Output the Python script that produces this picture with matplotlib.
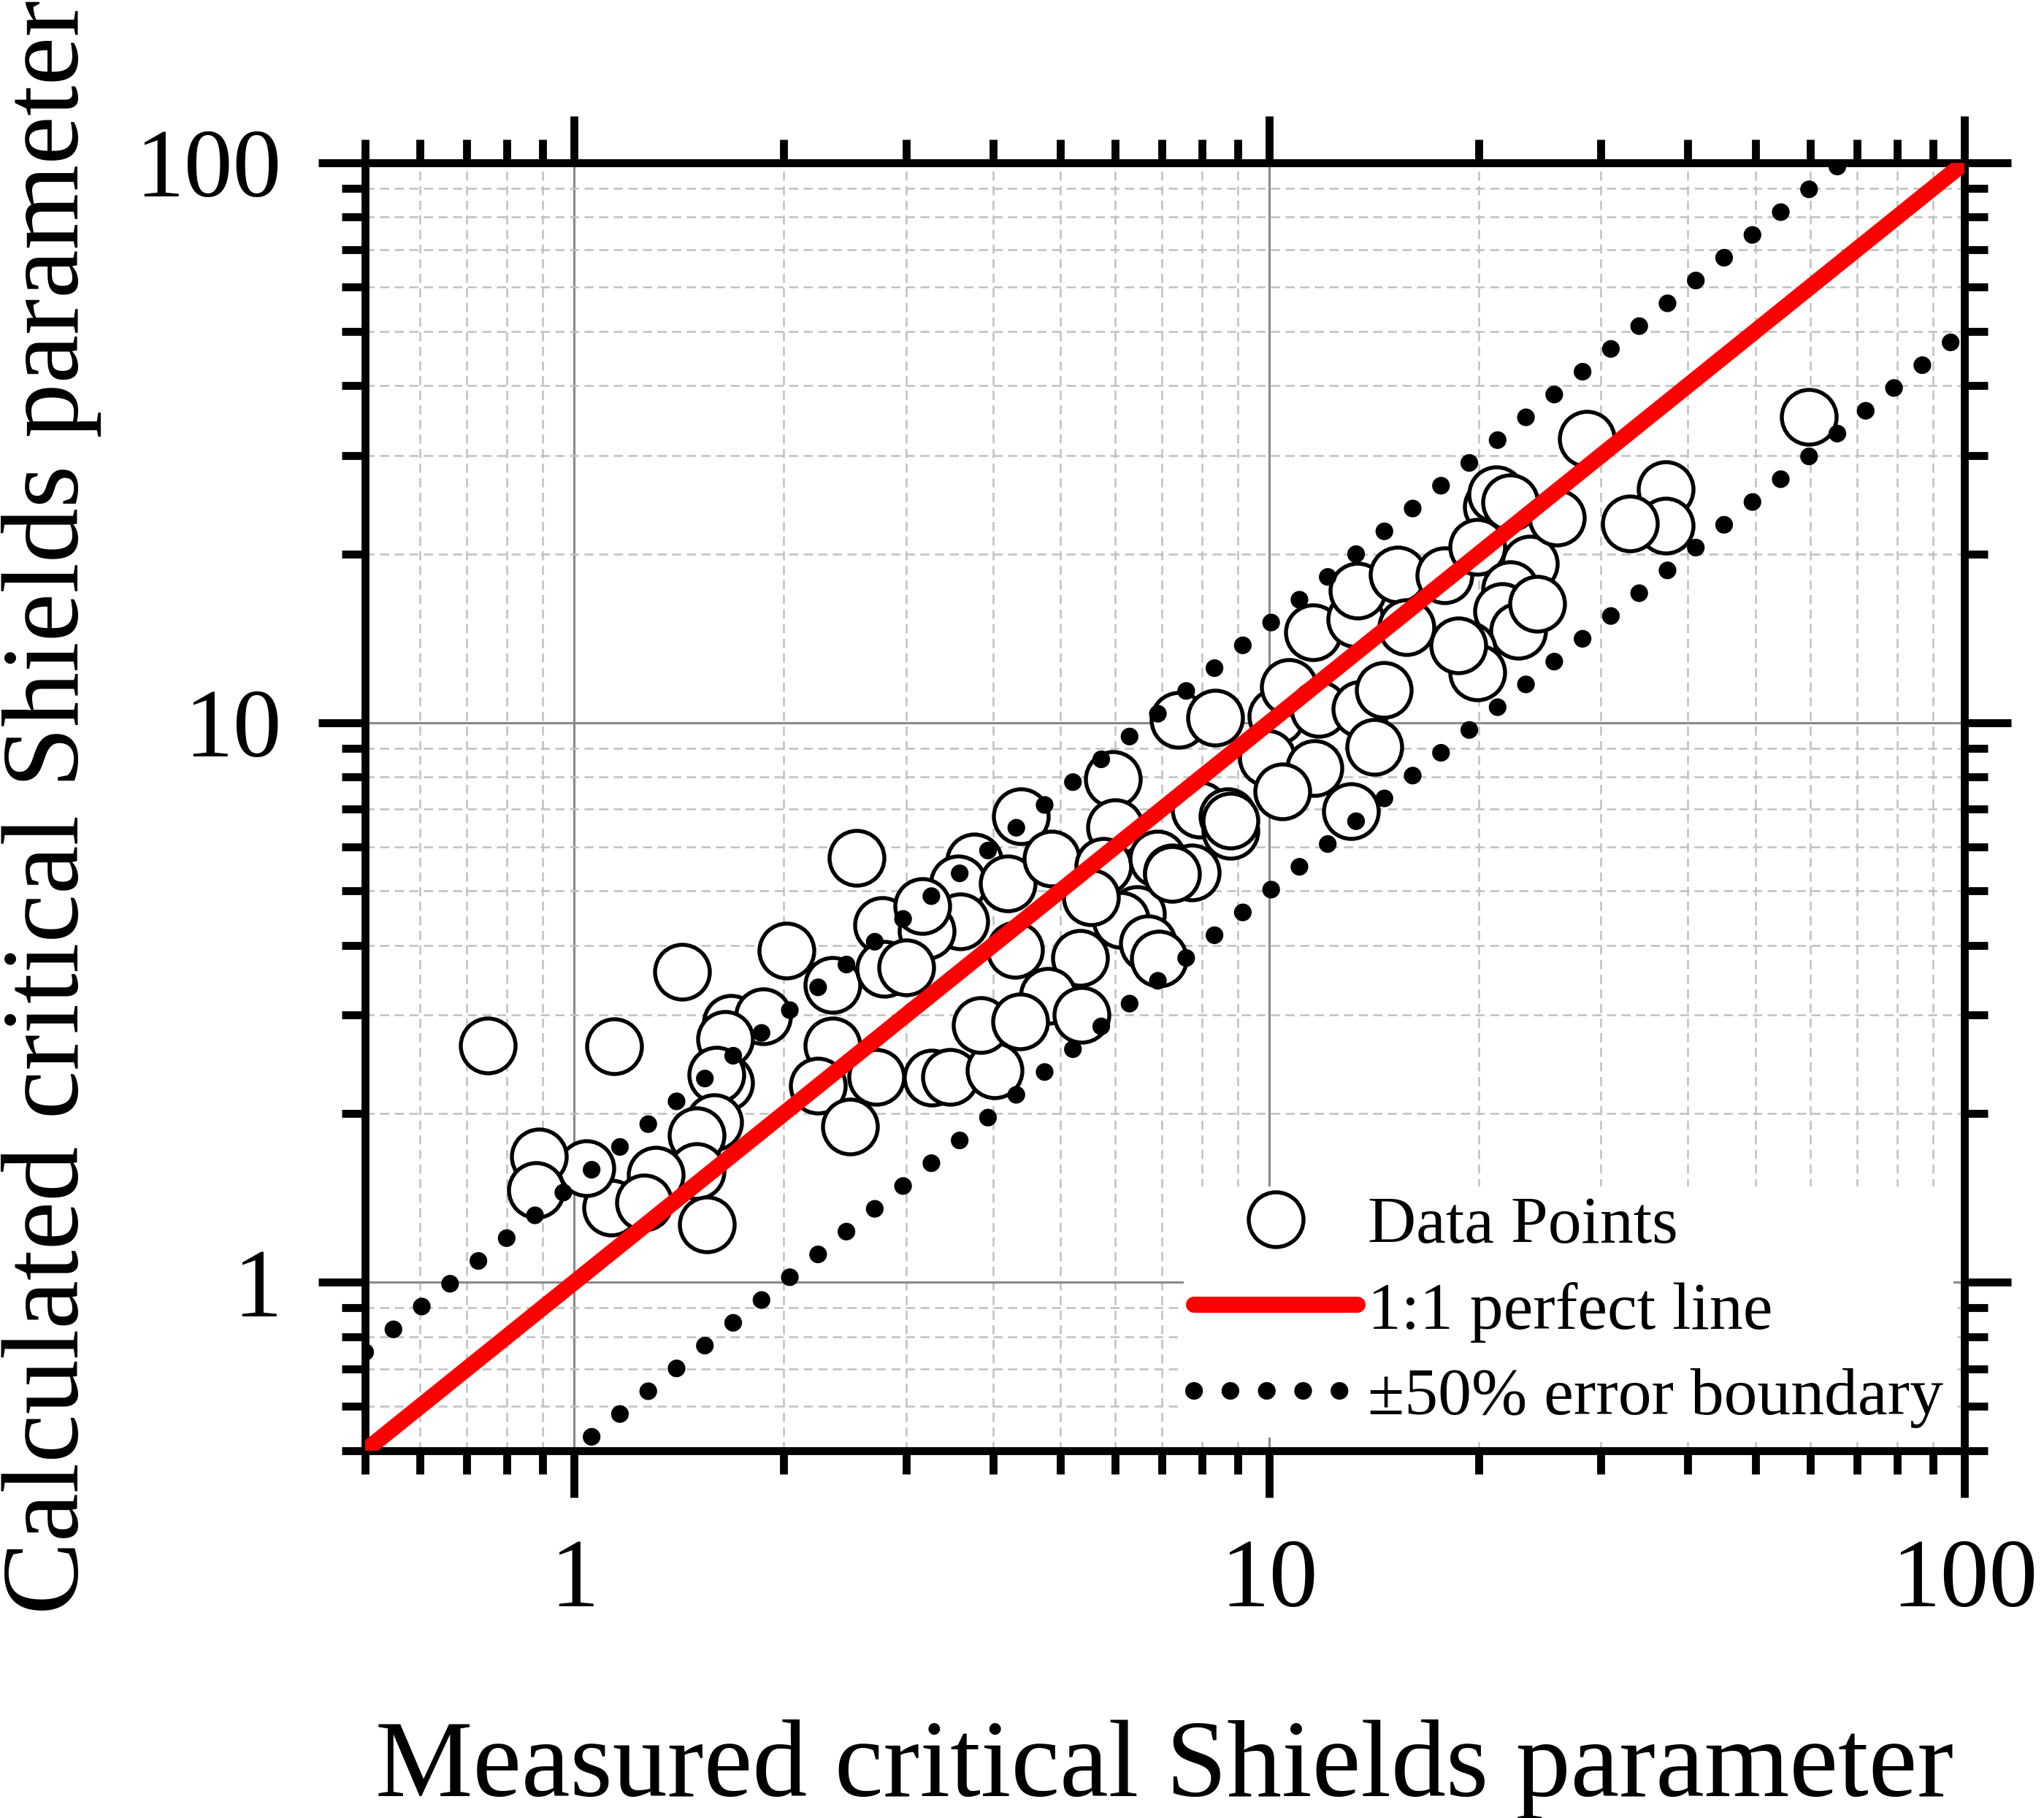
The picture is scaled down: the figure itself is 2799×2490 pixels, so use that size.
import numpy as np
import matplotlib
matplotlib.use("Agg")
import matplotlib.pyplot as plt
from matplotlib.ticker import LogLocator, NullFormatter, FixedFormatter, FixedLocator

plt.rcParams['font.family'] = ['Liberation Serif', 'DejaVu Serif']

# measured vs calculated critical Shields parameter
measured = [
    0.75, 1.14, 1.43, 2.02, 2.55, 1.68, 1.87, 1.65, 1.65, 1.60, 1.59, 1.50,
    1.50, 1.31, 1.55, 1.13, 1.26, 1.04, 0.89, 0.88, 2.35, 2.24, 2.49, 2.35,
    4.39, 5.96, 6.00, 7.41, 8.36, 7.94, 8.71, 8.80, 3.76, 3.57, 4.20, 4.86,
    5.77, 6.91, 7.24, 7.73, 6.45, 6.12, 6.69, 6.94, 5.54, 5.34, 4.80, 5.37,
    4.31, 3.59, 2.77, 3.21, 3.17, 2.79, 3.00, 2.72, 3.27, 3.47, 4.02, 3.84,
    4.38, 11.56, 13.28, 13.4, 15.3, 17.85, 15.76, 20.9, 19.9, 23.7, 22.2,
    21.6, 22.8, 24.3, 19.3, 19.9, 18.7, 10.25, 10.68, 11.77, 13.53, 14.6,
    14.17, 9.92, 11.61, 10.44, 13.1, 28.6, 37.2, 37.2, 33.0, 59.7, 21.2,
    22.2, 25.9, 8.80, 7.25,
]
calculated = [
    2.65, 2.64, 3.59, 3.91, 5.73, 2.91, 2.99, 2.72, 2.27, 2.35, 1.93, 1.83,
    1.58, 1.555, 1.27, 1.36, 1.39, 1.60, 1.675, 1.46, 2.65, 2.245, 1.90, 3.40,
    6.79, 7.93, 6.49, 10.1, 10.2, 6.99, 6.79, 6.41, 5.65, 5.15, 5.15, 5.71,
    5.55, 5.71, 5.40, 5.40, 4.54, 4.44, 4.03, 3.78, 4.87, 3.80, 3.25, 3.00,
    3.93, 4.41, 4.34, 4.24, 4.70, 3.63, 3.65, 2.33, 2.32, 2.33, 2.39, 2.88,
    2.92, 14.5, 15.3, 17.2, 18.4, 18.3, 14.8, 24.3, 20.6, 19.2, 17.3,
    15.8, 14.6, 16.3, 13.5, 12.3, 13.75, 10.26, 11.57, 10.56, 10.56, 11.44,
    9.04, 8.64, 8.29, 7.52, 6.94, 32.1, 26.1, 22.5, 22.7, 35.2, 25.6,
    24.7, 23.2, 6.67, 5.36,
]

axis_range = [0.5, 100]
tick_values = [1, 10, 100]
tick_labels = ['1', '10', '100']
error_factor = 0.5  # +/-50 %

fig = plt.figure(figsize=(2799 / 300, 2490 / 300), dpi=300)
ax = fig.add_axes([0.1786, 0.202, 0.7825, 0.7085])
ax.set_xscale('log')
ax.set_yscale('log')
ax.set_xlim(axis_range)
ax.set_ylim(axis_range)

# grid
ax.set_axisbelow(True)
ax.grid(which='major', color='#8a8a8a', linewidth=0.75, linestyle='-')
ax.grid(which='minor', color='#c0c0c0', linewidth=0.6, linestyle=(0, (5, 3)))

# data points
ax.plot(measured, calculated, 'o', ms=18, mfc='white', mec='black', mew=1.3,
        linestyle='none', label='Data Points', zorder=3)

line_x = np.array(axis_range)
dot_style = (0, (0.01, 2.05))
ax.plot(line_x, line_x, color='#ff0000', lw=5.3, solid_capstyle='butt',
        label='1:1 perfect line', zorder=4)
ax.plot(line_x, line_x * (1 + error_factor), color='black', lw=5.8,
        linestyle=dot_style, dash_capstyle='round',
        label='\u00b150% error boundary', zorder=4)
ax.plot(line_x, line_x * (1 - error_factor), color='black', lw=5.8,
        linestyle=dot_style, dash_capstyle='round', zorder=4)

# ticks and spines
for axis in (ax.xaxis, ax.yaxis):
    axis.set_major_locator(FixedLocator(tick_values))
    axis.set_major_formatter(FixedFormatter(tick_labels))
    axis.set_minor_locator(LogLocator(base=10, subs=np.arange(2, 10) * 1.0, numticks=20))
    axis.set_minor_formatter(NullFormatter())

ax.tick_params(which='both', direction='out', top=True, right=True, width=2.6,
               labelsize=32)
ax.tick_params(which='major', length=15.4)
ax.tick_params(which='minor', length=7.7)
ax.tick_params(axis='x', which='major', pad=13.5)
ax.tick_params(axis='y', which='major', pad=12)
for spine in ax.spines.values():
    spine.set_linewidth(2.6)

ax.set_xlabel('Measured critical Shields parameter', fontsize=36)
ax.set_ylabel('Calculated critical Shields parameter', fontsize=36)
ax.xaxis.set_label_coords(0.5, -0.268)
ax.xaxis.label.set_va('baseline')
ax.yaxis.set_label_coords(-0.1795, 0.5)
ax.yaxis.label.set_va('baseline')

leg = ax.legend(loc='lower right', bbox_to_anchor=(0.993, 0.010),
                borderaxespad=0, fontsize=22, frameon=True, fancybox=False,
                framealpha=1, edgecolor='none', facecolor='white',
                handlelength=2.45, handletextpad=0.15, labelspacing=0.37,
                borderpad=0.15, numpoints=1)
leg.get_lines()[1].set_solid_capstyle('round')
leg.set_zorder(5)

fig.savefig('out.png', dpi=300)
